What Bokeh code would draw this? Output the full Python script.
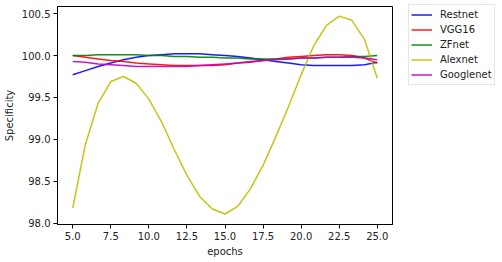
from bokeh.plotting import figure
from bokeh.models import Legend, LegendItem, FixedTicker, PrintfTickFormatter, Range1d
from bokeh.embed import file_html
from bokeh.resources import INLINE

epochs = [5 + i * 20 / 24 for i in range(25)]

restnet = [99.77, 99.82, 99.87, 99.91, 99.95, 99.98, 100.00, 100.01, 100.02, 100.02,
           100.02, 100.01, 100.00, 99.99, 99.97, 99.95, 99.93, 99.91, 99.89, 99.88,
           99.88, 99.88, 99.88, 99.89, 99.92]
vgg16 = [100.00, 99.98, 99.96, 99.94, 99.93, 99.91, 99.90, 99.89, 99.88, 99.88,
         99.88, 99.88, 99.89, 99.91, 99.92, 99.94, 99.96, 99.98, 99.99, 100.00,
         100.01, 100.01, 100.00, 99.97, 99.91]
zfnet = [100.00, 100.00, 100.01, 100.01, 100.01, 100.01, 100.00, 100.00, 99.99, 99.99,
         99.98, 99.98, 99.97, 99.97, 99.96, 99.96, 99.96, 99.96, 99.97, 99.97,
         99.98, 99.98, 99.99, 99.99, 100.00]
alexnet = [98.18, 98.94, 99.43, 99.69, 99.75, 99.67, 99.48, 99.21, 98.88, 98.57,
           98.32, 98.17, 98.11, 98.20, 98.41, 98.69, 99.03, 99.39, 99.77, 100.12,
           100.36, 100.47, 100.42, 100.19, 99.73]
googlenet = [99.93, 99.92, 99.90, 99.89, 99.88, 99.87, 99.87, 99.87, 99.87, 99.87,
             99.88, 99.89, 99.90, 99.91, 99.93, 99.94, 99.95, 99.96, 99.97, 99.97,
             99.98, 99.98, 99.98, 99.97, 99.95]

names = ["Restnet", "VGG16", "ZFnet", "Alexnet", "Googlenet"]
colors = ["#0000ff", "#ff0000", "#008000", "#bfbf00", "#bf00bf"]
series = [restnet, vgg16, zfnet, alexnet, googlenet]

x_ticks = [5.0, 7.5, 10.0, 12.5, 15.0, 17.5, 20.0, 22.5, 25.0]
y_ticks = [98.0, 98.5, 99.0, 99.5, 100.0, 100.5]

FONT = "DejaVu Sans"
FS = "10px"

p = figure(frame_width=335, frame_height=218, output_backend="svg", toolbar_location=None,
           x_range=Range1d(4.0, 26.0), y_range=Range1d(97.985, 100.585),
           min_border_left=49, min_border_right=110, min_border_top=6, min_border_bottom=36)

items = []
for name, col, ys in zip(names, colors, series):
    r = p.line(epochs, ys, line_color=col, line_width=1.5, line_alpha=0.9)
    items.append(LegendItem(label=name, renderers=[r]))

p.xgrid.visible = False
p.ygrid.visible = False
p.outline_line_color = "black"
p.outline_line_width = 1
p.background_fill_color = "white"
p.border_fill_color = "white"

for ax in (p.xaxis[0], p.yaxis[0]):
    ax.axis_line_color = "black"
    ax.major_tick_line_color = "black"
    ax.major_tick_out = 4
    ax.major_tick_in = 0
    ax.minor_tick_line_color = None
    ax.major_label_text_font = FONT
    ax.major_label_text_font_size = FS
    ax.major_label_text_color = "#222222"
    ax.axis_label_text_font = FONT
    ax.axis_label_text_font_size = FS
    ax.axis_label_text_font_style = "normal"
    ax.axis_label_text_color = "#222222"
    ax.major_label_standoff = 3

p.xaxis.ticker = FixedTicker(ticks=x_ticks)
p.yaxis.ticker = FixedTicker(ticks=y_ticks)
p.xaxis.formatter = PrintfTickFormatter(format="%.1f")
p.yaxis.formatter = PrintfTickFormatter(format="%.1f")
p.xaxis.axis_label = "epochs"
p.yaxis.axis_label = "Specificity"
p.xaxis.axis_label_standoff = 3
p.yaxis.axis_label_standoff = 4

legend = Legend(items=items, location=(16, 139))
legend.label_text_font = FONT
legend.label_text_font_size = FS
legend.label_text_color = "#222222"
legend.glyph_width = 21
legend.glyph_height = 15
legend.label_height = 15
legend.label_standoff = 8
legend.spacing = 0
legend.padding = 2
legend.margin = 0
legend.border_line_color = "#cccccc"
legend.border_line_width = 1
legend.background_fill_color = "white"
legend.background_fill_alpha = 1.0
p.add_layout(legend, "right")

open("out.html", "w").write(file_html(p, INLINE))
